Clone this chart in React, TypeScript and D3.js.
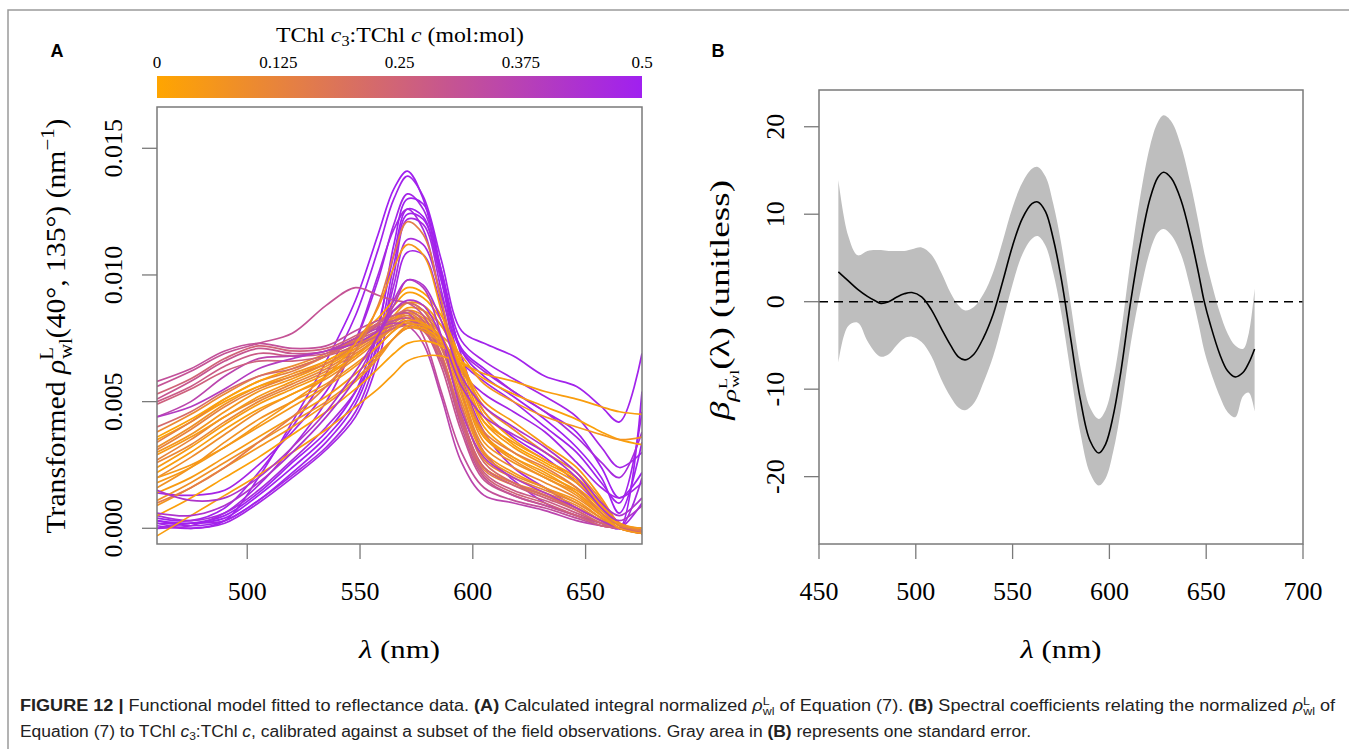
import React from "react";
import * as d3 from "d3";

const W = 1349;
const H = 749;
const SERIF = "'Liberation Serif', 'Times New Roman', serif";
const SANS = "'Liberation Sans', Arial, sans-serif";

// ---------- Panel A data ----------
// wavelengths (nm) at which each spectrum was read
const LAMBDA_A = [460, 475, 490, 505, 520, 535, 548, 558, 565, 571, 578, 586, 595, 605, 618, 632, 646, 657, 665, 675];

// TChl c3:TChl c (mol:mol) of each spectrum
const RATIOS = [
  0.10, 0.08, 0.06, 0.12, 0.04, 0.09, 0.02, 0.05, 0.14, 0.03,
  0.07, 0.11, 0.04, 0.02, 0.03, 0.06, 0.05, 0.08, 0.01, 0.13,
  0.32, 0.30, 0.28, 0.36, 0.26, 0.31, 0.22, 0.40, 0.25,
  0.50, 0.49, 0.48, 0.50, 0.47, 0.49, 0.46, 0.48, 0.43, 0.42, 0.47, 0.50,
  0.15, 0.05,
];

// transformed reflectance, in units of 1e-3 nm^-1
const SPECTRA = [
  [3.8, 4.5, 5.3, 6.0, 6.4, 6.9, 7.5, 8.1, 8.6, 8.9, 8.6, 7.6, 5.4, 3.2, 2.4, 1.8, 1.2, 0.5, 0.0, -0.1],
  [3.2, 4.0, 4.9, 5.6, 6.1, 6.6, 7.2, 7.8, 8.3, 8.6, 8.4, 7.6, 5.8, 3.6, 2.7, 2.0, 1.4, 0.6, 0.0, -0.2],
  [3.0, 3.7, 4.6, 5.4, 5.9, 6.5, 7.1, 7.7, 8.2, 8.5, 8.3, 7.4, 5.2, 3.0, 2.2, 1.6, 1.1, 0.4, 0.0, -0.2],
  [2.7, 3.5, 4.4, 5.1, 5.7, 6.3, 7.0, 7.6, 8.1, 8.4, 8.1, 7.1, 4.8, 2.7, 2.0, 1.5, 1.0, 0.4, 0.0, -0.1],
  [2.4, 3.2, 4.1, 4.9, 5.5, 6.1, 6.8, 7.5, 8.0, 8.3, 8.2, 7.5, 5.8, 3.7, 2.8, 2.1, 1.5, 0.7, 0.1, -0.2],
  [2.0, 2.8, 3.7, 4.6, 5.3, 5.9, 6.7, 7.4, 7.9, 8.2, 8.0, 7.2, 5.0, 2.9, 2.1, 1.6, 1.0, 0.4, 0.0, -0.1],
  [3.5, 4.2, 5.0, 5.6, 6.0, 6.6, 7.3, 8.1, 8.8, 9.3, 9.1, 8.2, 6.2, 4.0, 3.0, 2.3, 1.6, 0.8, 0.1, -0.2],
  [2.9, 3.6, 4.4, 5.2, 5.8, 6.4, 7.1, 7.8, 8.4, 8.9, 8.8, 8.0, 6.4, 4.2, 3.2, 2.5, 1.8, 0.9, 0.2, -0.1],
  [3.4, 4.2, 5.1, 5.8, 6.2, 6.8, 7.4, 8.0, 8.3, 8.5, 8.1, 6.9, 4.4, 2.4, 1.8, 1.3, 0.8, 0.3, 0.0, -0.2],
  [2.2, 3.0, 3.9, 4.7, 5.3, 6.0, 6.8, 7.6, 8.2, 8.7, 8.6, 8.0, 6.6, 4.6, 3.5, 2.7, 2.0, 1.0, 0.2, -0.1],
  [1.6, 2.4, 3.4, 4.3, 5.0, 5.7, 6.5, 7.2, 7.8, 8.1, 8.0, 7.4, 5.6, 3.4, 2.6, 2.0, 1.3, 0.5, 0.0, -0.2],
  [2.6, 3.3, 4.2, 5.0, 5.6, 6.2, 6.9, 7.5, 7.9, 8.1, 7.8, 6.8, 4.4, 2.4, 1.8, 1.4, 0.9, 0.3, 0.0, -0.1],
  [1.4, 2.0, 2.8, 3.6, 4.4, 5.2, 6.1, 6.9, 7.5, 7.9, 7.9, 7.4, 6.4, 5.0, 4.2, 3.3, 2.4, 1.2, 0.2, 0.0],
  [0.5, 1.2, 2.0, 2.8, 3.7, 4.6, 5.5, 6.3, 6.9, 7.3, 7.4, 7.2, 6.6, 5.9, 5.3, 4.8, 4.3, 3.8, 3.5, 3.3],
  [-0.3, 0.5, 1.3, 2.1, 3.0, 3.9, 4.8, 5.5, 6.1, 6.6, 6.8, 6.8, 6.5, 6.1, 5.8, 5.4, 5.1, 4.8, 4.6, 4.5],
  [0.9, 1.6, 2.4, 3.2, 4.0, 4.9, 5.8, 6.7, 7.5, 8.0, 8.0, 7.6, 6.8, 5.7, 5.0, 4.4, 4.0, 3.7, 3.5, 3.6],
  [2.0, 2.5, 3.2, 4.0, 4.8, 5.6, 6.4, 7.2, 7.8, 8.2, 8.1, 7.5, 6.0, 4.2, 3.4, 2.7, 2.0, 1.0, 0.2, 0.0],
  [1.1, 1.8, 2.6, 3.4, 4.2, 5.0, 5.9, 6.8, 7.5, 7.9, 7.8, 7.3, 6.3, 4.8, 3.9, 3.0, 2.2, 1.1, 0.2, -0.1],
  [3.6, 4.3, 5.1, 5.8, 6.3, 6.8, 7.5, 8.3, 9.0, 9.5, 9.3, 8.4, 6.6, 4.4, 3.3, 2.6, 1.9, 0.9, 0.1, -0.2],
  [3.1, 3.9, 4.8, 5.5, 6.0, 6.5, 7.2, 7.8, 8.2, 8.4, 8.0, 6.8, 4.2, 2.3, 1.7, 1.3, 0.8, 0.3, 0.0, -0.2],
  [5.8, 6.3, 7.0, 7.3, 7.1, 7.2, 7.8, 8.2, 8.4, 8.5, 7.6, 5.4, 3.0, 1.6, 1.1, 0.8, 0.4, 0.1, 0.0, -0.1],
  [5.1, 5.8, 6.6, 7.1, 6.9, 7.0, 7.5, 8.0, 8.2, 8.3, 7.9, 6.4, 3.8, 1.9, 1.3, 0.9, 0.5, 0.2, 0.0, -0.2],
  [5.0, 5.6, 6.4, 6.9, 6.8, 6.9, 7.4, 7.8, 8.0, 8.2, 7.9, 6.6, 4.2, 2.2, 1.5, 1.1, 0.6, 0.2, 0.0, -0.1],
  [4.4, 5.0, 6.0, 6.7, 6.8, 7.0, 7.5, 7.9, 8.1, 8.0, 7.3, 5.2, 2.6, 1.3, 1.0, 0.7, 0.3, 0.1, 0.0, 0.0],
  [4.9, 5.5, 6.2, 6.6, 6.6, 6.8, 7.2, 7.6, 7.9, 8.0, 7.8, 6.6, 4.4, 2.4, 1.7, 1.2, 0.7, 0.2, 0.0, -0.2],
  [5.6, 6.2, 6.9, 7.3, 7.7, 8.8, 9.5, 9.2, 9.0, 8.9, 8.4, 6.8, 4.0, 2.0, 1.3, 0.9, 0.5, 0.1, 0.0, -0.1],
  [4.0, 4.6, 5.4, 6.0, 6.3, 6.8, 7.4, 8.1, 8.6, 8.9, 8.6, 7.2, 4.8, 2.6, 1.8, 1.3, 0.7, 0.2, 0.0, -0.1],
  [4.4, 4.8, 5.5, 6.3, 6.7, 7.0, 7.3, 7.8, 8.8, 9.8, 9.5, 7.6, 4.6, 2.8, 2.0, 1.4, 0.8, 0.3, 0.0, 0.0],
  [5.3, 5.9, 6.7, 7.2, 7.0, 7.1, 7.6, 8.1, 8.4, 8.6, 8.2, 6.8, 4.2, 2.1, 1.4, 1.0, 0.5, 0.1, 0.0, -0.2],
  [0.1, 0.0, 0.3, 2.0, 4.2, 6.6, 9.0, 11.6, 13.4, 14.1, 13.0, 10.0, 6.8, 4.6, 3.6, 2.8, 1.8, 0.8, 0.0, 5.4],
  [0.4, 0.3, 0.8, 2.2, 4.0, 6.1, 8.4, 11.0, 13.0, 13.9, 13.1, 10.6, 7.8, 7.3, 6.8, 6.0, 5.6, 4.8, 4.2, 6.9],
  [1.4, 1.3, 1.5, 2.5, 3.8, 5.4, 7.4, 9.8, 12.0, 13.2, 12.6, 10.2, 7.4, 6.6, 5.9, 5.2, 4.4, 3.2, 2.4, 3.0],
  [0.2, 0.2, 0.5, 1.4, 2.6, 3.8, 5.4, 8.0, 10.8, 12.6, 12.3, 9.8, 7.1, 6.3, 5.4, 4.6, 3.8, 2.4, 1.2, 2.2],
  [0.0, 0.2, 0.3, 1.1, 2.1, 3.2, 4.6, 7.0, 10.0, 12.2, 12.0, 9.4, 6.0, 3.8, 2.4, 1.6, 0.8, 0.3, 0.0, 2.0],
  [0.3, 0.1, 0.3, 1.1, 2.2, 3.4, 4.9, 7.4, 10.4, 12.4, 12.2, 9.8, 6.6, 5.8, 5.0, 4.0, 3.0, 1.8, 1.0, 4.6],
  [0.5, 0.3, 0.6, 1.5, 2.7, 4.0, 5.4, 7.2, 9.6, 11.4, 11.2, 9.2, 7.0, 6.2, 5.4, 4.6, 3.6, 2.6, 2.0, 3.8],
  [0.2, 0.0, 0.2, 1.0, 2.0, 3.1, 4.4, 6.6, 9.2, 10.9, 10.8, 8.8, 6.2, 5.3, 4.6, 3.8, 2.6, 1.6, 1.2, 1.8],
  [0.6, 0.5, 0.9, 1.8, 3.0, 4.4, 5.9, 7.6, 9.0, 9.8, 9.6, 8.2, 6.0, 4.8, 4.0, 3.2, 2.2, 1.0, 0.5, 1.2],
  [1.5, 1.1, 1.2, 2.0, 3.2, 4.6, 6.2, 7.6, 8.6, 9.0, 8.8, 7.6, 5.6, 4.4, 3.7, 3.0, 2.0, 0.8, 0.3, 0.9],
  [0.0, 0.1, 0.6, 1.7, 3.2, 5.0, 7.4, 10.0, 11.8, 12.6, 11.8, 9.0, 5.4, 3.0, 1.9, 1.0, 0.5, 0.2, 0.0, 1.0],
  [0.3, 0.2, 0.4, 1.3, 2.4, 3.6, 5.1, 7.8, 11.2, 13.0, 12.8, 10.2, 7.0, 6.0, 5.2, 4.3, 3.2, 2.0, 0.6, 3.4],
  [1.0, 1.6, 2.4, 3.4, 4.4, 5.6, 7.0, 8.8, 10.8, 12.1, 11.6, 9.0, 5.8, 3.8, 3.0, 2.4, 1.6, 0.6, 0.1, -0.1],
  [1.8, 2.4, 3.2, 4.1, 5.0, 6.0, 7.3, 8.7, 10.3, 11.2, 10.8, 8.6, 5.6, 3.6, 2.8, 2.2, 1.4, 0.5, 0.0, -0.2],
];

const DRAW_ORDER = [
  29, 30, 31, 32, 33, 34, 35, 36, 39, 40,
  0, 1, 2, 3, 4, 5, 6, 7, 8, 9, 10, 11, 19, 18,
  20, 21, 22, 23, 24, 25, 26, 27, 28,
  12, 13, 14, 15, 16, 17, 41, 42, 37, 38,
];

const A_X_TICKS = [500, 550, 600, 650];
const A_Y_TICKS = [0, 5, 10, 15]; // 1e-3 nm^-1
const A_Y_LABELS = ["0.000", "0.005", "0.010", "0.015"];
const CB_TICKS = [0, 0.125, 0.25, 0.375, 0.5];
const CB_LABELS = ["0", "0.125", "0.25", "0.375", "0.5"];
const CB_COLORS = ["#FFA500", "#A020F0"];

// ---------- Panel B data ----------
const LAMBDA_B = [460, 465, 470, 475, 479, 482, 486, 490, 494, 498, 503, 508, 513, 518, 522, 525.5, 530, 535, 540, 545, 550, 555, 560, 563, 567, 571, 575, 580, 585, 590, 594.5, 598, 602, 606, 611, 616, 621, 625, 628, 632, 637, 642, 646, 649, 652, 657, 661, 665, 669, 672, 675];
const BETA = [3.4, 2.4, 1.4, 0.6, 0.1, -0.2, 0.0, 0.5, 0.9, 1.05, 0.55, -0.9, -3.0, -5.0, -6.3, -6.65, -6.0, -4.1, -1.4, 2.4, 6.4, 9.5, 11.2, 11.4, 10.3, 7.2, 2.8, -4.2, -11.2, -15.9, -17.3, -16.3, -13.0, -7.9, 0.0, 6.6, 11.8, 14.2, 14.8, 14.1, 11.6, 7.4, 3.3, 0.0, -2.5, -6.0, -7.9, -8.6, -8.1, -7.0, -5.4];
const BETA_HI = [13.9, 7.6, 5.3, 5.8, 5.9, 5.9, 5.8, 5.8, 5.8, 6.0, 6.2, 5.4, 3.4, 1.0, -0.4, -1.0, -0.6, 0.9, 3.4, 7.0, 10.8, 13.6, 15.2, 15.4, 14.3, 11.2, 6.8, -0.3, -7.4, -12.1, -13.4, -12.4, -8.9, -3.5, 4.8, 12.1, 17.8, 20.5, 21.3, 20.6, 17.8, 13.4, 9.1, 5.6, 2.8, -1.2, -3.6, -5.0, -5.4, -3.6, 1.5];
const BETA_LO = [-7.0, -2.8, -2.4, -4.5, -5.8, -6.3, -6.0, -5.0, -4.2, -4.0, -4.6, -6.2, -8.8, -10.9, -12.1, -12.4, -11.6, -9.2, -6.2, -2.2, 2.0, 5.4, 7.2, 7.5, 6.4, 3.3, -1.1, -8.1, -15.0, -19.6, -21.0, -20.2, -17.1, -12.3, -4.8, 1.1, 5.8, 7.9, 8.3, 7.6, 5.4, 1.4, -2.5, -5.6, -7.8, -10.8, -12.6, -13.2, -10.8, -10.4, -12.5];
const B_X_TICKS = [450, 500, 550, 600, 650, 700];
const B_Y_TICKS = [-20, -10, 0, 10, 20];

// ---------- layout ----------
const A = { left: 157, right: 642, top: 107, bottom: 544 };
const B = { left: 819, right: 1303, top: 90, bottom: 544 };
const TICK = 15;
const AXIS_COLOR = "#7a7a7a";
const FS = 26;

export default function App() {
  const xA = d3.scaleLinear().domain([460, 675]).range([A.left, A.right]);
  const yA = d3.scaleLinear().domain([-0.62, 16.63]).range([A.bottom, A.top]);
  const cbX = d3.scaleLinear().domain([0, 0.5]).range([A.left, A.right]);
  const col = d3.scaleLinear<string>().domain([0, 0.5]).range(CB_COLORS).interpolate(d3.interpolateRgb);

  const xB = d3.scaleLinear().domain([450, 700]).range([B.left, B.right]);
  const yB = d3.scaleLinear().domain([-27.7, 24.2]).range([B.bottom, B.top]);

  const lineA = d3
    .line<number>()
    .x((_, i) => xA(LAMBDA_A[i]))
    .y((d) => yA(d))
    .curve(d3.curveCatmullRom.alpha(0.5));

  const lineB = d3
    .line<number>()
    .x((_, i) => xB(LAMBDA_B[i]))
    .y((d) => yB(d))
    .curve(d3.curveCatmullRom.alpha(0.5));

  const bandB = d3
    .area<number>()
    .x((_, i) => xB(LAMBDA_B[i]))
    .y0((_, i) => yB(BETA_LO[i]))
    .y1((_, i) => yB(BETA_HI[i]))
    .curve(d3.curveCatmullRom.alpha(0.5));

  const gradStops = d3.range(0, 1.0001, 0.1);

  return (
    <svg width={W} height={H} style={{ position: "absolute", left: 0, top: 0, background: "#fff" }}>
      <defs>
        <clipPath id="clipA">
          <rect x={A.left} y={A.top} width={A.right - A.left} height={A.bottom - A.top} />
        </clipPath>
        <linearGradient id="cbGrad" x1="0" x2="1" y1="0" y2="0">
          {gradStops.map((t) => (
            <stop key={t} offset={t} stopColor={col(t * 0.5)} />
          ))}
        </linearGradient>
      </defs>
      <rect x={0} y={0} width={W} height={H} fill="#fff" />

      {/* outer frame */}
      <path d={`M8,${H} L8,10 L${W},10`} fill="none" stroke="#9a9a9a" strokeWidth={1.5} />

      {/* panel letters */}
      <text x={57} y={57} fontFamily={SANS} fontWeight="bold" fontSize={18} textAnchor="middle">A</text>
      <text x={718} y={57} fontFamily={SANS} fontWeight="bold" fontSize={18} textAnchor="middle">B</text>

      {/* ---------------- Panel A ---------------- */}
      {/* colour bar */}
      <text x={400} y={42} fontFamily={SERIF} fontSize={22} textAnchor="middle" textLength={248} lengthAdjust="spacingAndGlyphs">
        TChl <tspan fontStyle="italic">c</tspan>
        <tspan fontSize={15} dy={4}>3</tspan>
        <tspan dy={-4}>:TChl </tspan>
        <tspan fontStyle="italic">c</tspan> (mol:mol)
      </text>
      {CB_TICKS.map((t, i) => (
        <text key={t} x={cbX(t)} y={68} fontFamily={SERIF} fontSize={17} textAnchor="middle">
          {CB_LABELS[i]}
        </text>
      ))}
      <rect x={A.left} y={76} width={A.right - A.left} height={22} fill="url(#cbGrad)" />

      {/* spectra */}
      <g clipPath="url(#clipA)">
        {DRAW_ORDER.map((k) => (
          <path key={k} d={lineA(SPECTRA[k]) || ""} fill="none" stroke={col(RATIOS[k])} strokeWidth={1.7} />
        ))}
      </g>

      {/* box */}
      <rect x={A.left} y={A.top} width={A.right - A.left} height={A.bottom - A.top} fill="none" stroke={AXIS_COLOR} strokeWidth={1.5} />

      {/* x axis A */}
      {A_X_TICKS.map((t) => (
        <g key={t}>
          <line x1={xA(t)} x2={xA(t)} y1={A.bottom} y2={A.bottom + TICK} stroke={AXIS_COLOR} strokeWidth={1.3} />
          <text x={xA(t)} y={600} fontFamily={SERIF} fontSize={FS} textAnchor="middle">{t}</text>
        </g>
      ))}
      <text x={(A.left + A.right) / 2} y={658} fontFamily={SERIF} fontSize={FS} textAnchor="middle" textLength={81} lengthAdjust="spacingAndGlyphs">
        <tspan fontStyle="italic">λ</tspan> (nm)
      </text>

      {/* y axis A */}
      {A_Y_TICKS.map((t, i) => (
        <g key={t}>
          <line x1={A.left - TICK} x2={A.left} y1={yA(t)} y2={yA(t)} stroke={AXIS_COLOR} strokeWidth={1.3} />
          <text transform={`translate(${122},${yA(t)}) rotate(-90)`} fontFamily={SERIF} fontSize={FS} textAnchor="middle">
            {A_Y_LABELS[i]}
          </text>
        </g>
      ))}
      <text transform="translate(65,326) rotate(-90)" fontFamily={SERIF} fontSize={27} textAnchor="middle" textLength={415} lengthAdjust="spacingAndGlyphs">
        Transformed <tspan fontStyle="italic">ρ</tspan>
        <tspan fontSize={19} dy={-12}>L</tspan>
        <tspan fontSize={19} dx={-11} dy={19}>wl</tspan>
        <tspan dy={-7}>(40°, 135°) (nm</tspan>
        <tspan fontSize={19} dy={-11}>−1</tspan>
        <tspan dy={11}>)</tspan>
      </text>

      {/* ---------------- Panel B ---------------- */}
      <path d={bandB(BETA) || ""} fill="#bebebe" stroke="none" />
      <line x1={B.left} x2={B.right} y1={yB(0)} y2={yB(0)} stroke="#000" strokeWidth={1.6} strokeDasharray="9,6" />
      <path d={lineB(BETA) || ""} fill="none" stroke="#000" strokeWidth={1.6} />

      <rect x={B.left} y={B.top} width={B.right - B.left} height={B.bottom - B.top} fill="none" stroke={AXIS_COLOR} strokeWidth={1.5} />
      {B_X_TICKS.map((t) => (
        <g key={t}>
          <line x1={xB(t)} x2={xB(t)} y1={B.bottom} y2={B.bottom + TICK} stroke={AXIS_COLOR} strokeWidth={1.3} />
          <text x={xB(t)} y={600} fontFamily={SERIF} fontSize={FS} textAnchor="middle">{t}</text>
        </g>
      ))}
      <text x={(B.left + B.right) / 2} y={658} fontFamily={SERIF} fontSize={FS} textAnchor="middle" textLength={81} lengthAdjust="spacingAndGlyphs">
        <tspan fontStyle="italic">λ</tspan> (nm)
      </text>
      {B_Y_TICKS.map((t) => (
        <g key={t}>
          <line x1={B.left - TICK} x2={B.left} y1={yB(t)} y2={yB(t)} stroke={AXIS_COLOR} strokeWidth={1.3} />
          <text transform={`translate(${784},${yB(t)}) rotate(-90)`} fontFamily={SERIF} fontSize={FS} textAnchor="middle">
            {t}
          </text>
        </g>
      ))}
      <text transform="translate(729,300) rotate(-90)" fontFamily={SERIF} fontSize={27} textAnchor="middle" textLength={240} lengthAdjust="spacingAndGlyphs">
        <tspan fontStyle="italic">β</tspan>
        <tspan fontSize={19} fontStyle="italic" dy={7}>ρ</tspan>
        <tspan fontSize={13} dy={-9}>L</tspan>
        <tspan fontSize={13} dx={-7} dy={12}>wl</tspan>
        <tspan dy={-10}>(λ) (unitless)</tspan>
      </text>

      {/* ---------------- Caption ---------------- */}
      <text x={20} y={711} fontFamily={SANS} fontSize={16} fill="#222" textLength={1315} lengthAdjust="spacingAndGlyphs">
        <tspan fontWeight="bold">FIGURE 12 | </tspan>Functional model fitted to reflectance data. <tspan fontWeight="bold">(A)</tspan> Calculated integral normalized{" "}
        <tspan fontStyle="italic">ρ</tspan>
        <tspan fontSize={11} dy={-6}>L</tspan>
        <tspan fontSize={11} dx={-6} dy={10}>wl</tspan>
        <tspan dy={-4}> of Equation (7). </tspan>
        <tspan fontWeight="bold">(B)</tspan> Spectral coefficients relating the normalized{" "}
        <tspan fontStyle="italic">ρ</tspan>
        <tspan fontSize={11} dy={-6}>L</tspan>
        <tspan fontSize={11} dx={-6} dy={10}>wl</tspan>
        <tspan dy={-4}> of</tspan>
      </text>
      <text x={20} y={737} fontFamily={SANS} fontSize={16} fill="#222" textLength={1011} lengthAdjust="spacingAndGlyphs">
        Equation (7) to TChl <tspan fontStyle="italic">c</tspan>
        <tspan fontSize={11} dy={3}>3</tspan>
        <tspan dy={-3}>:TChl </tspan>
        <tspan fontStyle="italic">c</tspan>, calibrated against a subset of the field observations. Gray area in{" "}
        <tspan fontWeight="bold">(B)</tspan> represents one standard error.
      </text>
    </svg>
  );
}
